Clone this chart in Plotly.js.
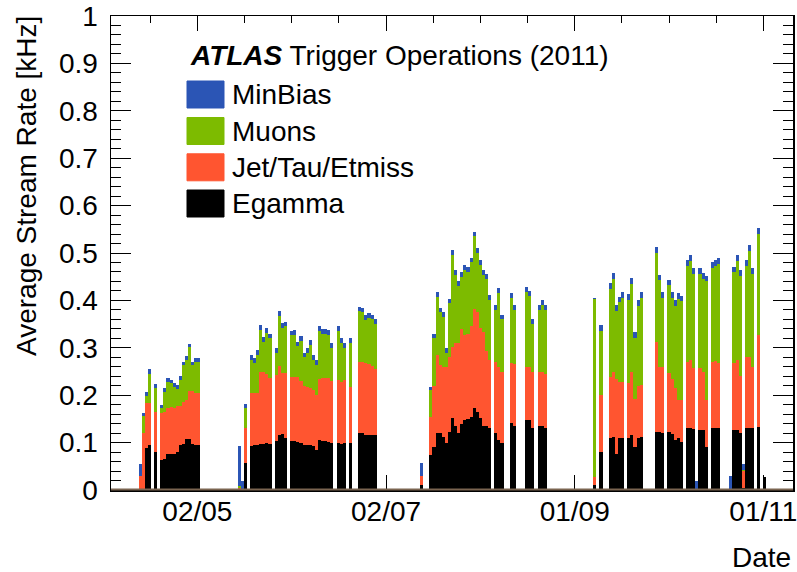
<!DOCTYPE html>
<html>
<head>
<meta charset="utf-8">
<script src="https://cdn.plot.ly/plotly-3.0.1.min.js"></script>
<style>html,body{margin:0;padding:0;background:#fff;}#chart{width:797px;height:572px;}</style>
</head>
<body>
<div id="chart"></div>
<script>
// ---- Data ----
const seriesNames = ["Egamma", "Jet/Tau/Etmiss", "Muons", "MinBias"];
const seriesColors = ["#000000", "#ff5530", "#7dbb00", "#2b55b5"];
const titleBold = "ATLAS";
const titleRest = "Trigger Operations (2011)";
const xTitle = "Date";
const yTitle = "Average Stream Rate [kHz]";

const dates = [
"2011-04-13","2011-04-14","2011-04-15","2011-04-16","2011-04-18","2011-04-20","2011-04-21","2011-04-22","2011-04-23","2011-04-24",
"2011-04-25","2011-04-26","2011-04-27","2011-04-28","2011-04-29","2011-04-30","2011-05-01","2011-05-02",
"2011-05-15","2011-05-16","2011-05-17","2011-05-19","2011-05-20","2011-05-21","2011-05-22","2011-05-23","2011-05-24","2011-05-25",
"2011-05-27","2011-05-28","2011-05-29","2011-05-30",
"2011-06-01","2011-06-02","2011-06-03","2011-06-04","2011-06-05","2011-06-06","2011-06-07","2011-06-08","2011-06-09","2011-06-10",
"2011-06-11","2011-06-12","2011-06-13","2011-06-14","2011-06-16","2011-06-17","2011-06-18","2011-06-20","2011-06-23","2011-06-24",
"2011-06-25","2011-06-26","2011-06-27","2011-06-28",
"2011-07-13","2011-07-16","2011-07-17","2011-07-18","2011-07-19","2011-07-20","2011-07-21","2011-07-22","2011-07-23","2011-07-24",
"2011-07-25","2011-07-26","2011-07-27","2011-07-28","2011-07-29","2011-07-30","2011-07-31","2011-08-01","2011-08-02","2011-08-03",
"2011-08-04","2011-08-06","2011-08-07","2011-08-08","2011-08-11","2011-08-12","2011-08-16","2011-08-17","2011-08-18","2011-08-20",
"2011-08-21","2011-08-22",
"2011-09-07","2011-09-09","2011-09-12","2011-09-13","2011-09-14","2011-09-15","2011-09-16","2011-09-18","2011-09-19","2011-09-20",
"2011-09-21","2011-09-22","2011-09-27","2011-09-28","2011-09-29","2011-10-01","2011-10-02","2011-10-03","2011-10-04","2011-10-05",
"2011-10-07","2011-10-08","2011-10-09","2011-10-10","2011-10-11","2011-10-12","2011-10-13","2011-10-15","2011-10-16","2011-10-17",
"2011-10-21","2011-10-22","2011-10-23","2011-10-24","2011-10-25","2011-10-26","2011-10-27","2011-10-28","2011-10-30","2011-11-01"
];

const egamma = [
0,0,.088,.095,.08,.063,.066,.077,.077,.076,
.08,.094,.097,.108,.108,.097,.094,.094,
0,0,.056,.093,.095,.096,.097,.098,.099,.097,
.103,.115,.118,.11,
.104,.103,.102,.1,.095,.095,.095,.093,.085,.105,
.104,.103,.102,.1,.1,.098,.1,.1,.12,.12,
.116,.115,.117,.115,
.01,.074,.09,.12,.12,.112,.1,.123,.151,.135,
.12,.14,.148,.15,.155,.172,.165,.151,.134,.134,
.13,.12,.105,.1,.141,.135,.148,.148,.13,.134,
.134,.13,
.01,.081,.109,.112,.075,.109,.11,.109,.116,.091,
.11,.112,.122,.122,.12,.122,.118,.105,.11,.102,
.13,.131,.128,0,.126,.126,.09,.13,.13,.13,
0,.126,.127,.12,.005,.13,.13,.13,.132,.028
];

const jetTauEtmiss = [
.03,.12,.095,.088,.085,.099,.099,.095,.099,.098,
.097,.084,.088,.082,.1,.111,.11,.11,
.005,0,.074,.111,.11,.108,.153,.15,.145,.14,
.14,.147,.128,.136,
.134,.135,.136,.13,.125,.122,.12,.118,.115,.13,
.132,.133,.134,.13,.132,.13,.132,.118,.151,.15,
.152,.15,.145,.14,
.02,.081,.13,.165,.144,.148,.16,.158,.15,.175,
.19,.2,.18,.18,.19,.21,.21,.19,.2,.16,
.144,.15,.155,.15,.126,.13,.112,.112,.12,.116,
.116,.115,
.017,.119,.13,.138,.16,.119,.118,.116,.134,.1,
.11,.11,.191,.138,.14,.124,.117,.11,.08,.088,
.141,.144,.129,0,.131,.124,.1,.14,.142,.137,
0,.141,.148,.12,.035,.151,.151,.13,.195,0
];

const muons = [
0,.037,.015,.062,.05,.01,.042,.056,.049,.044,
.037,.054,.078,.084,.093,.055,.066,.066,
.003,0,.042,.071,.063,.081,.088,.065,.087,.083,
.047,.106,.096,.099,
.088,.09,.065,.085,.06,.073,.091,.064,.064,.1,
.094,.094,.092,.07,.103,.082,.068,.092,.106,.105,
.091,.098,.098,.095,
0,.055,.1,.123,.111,.106,.03,.113,.195,.144,
.12,.11,.136,.13,.135,.153,.125,.134,.12,.151,
.127,.11,.156,.11,.138,.115,.158,.15,.1,.13,
.14,.135,
.377,.136,.186,.195,.143,.168,.178,.176,.185,.13,
.168,.184,.188,.182,.146,.186,.171,.173,.213,.208,
.202,.209,.199,0,.199,.195,.25,.198,.201,.21,
0,.192,.209,.212,.003,.192,.224,.196,.213,0
];

const minBias = [
.025,.005,.008,.01,.008,.008,.008,.008,.008,.008,
.008,.008,.008,.008,.008,.008,.008,.008,
.085,.02,.01,.01,.01,.01,.01,.01,.01,.01,
.01,.01,.01,.01,
.01,.01,.01,.01,.01,.01,.01,.01,.01,.01,
.01,.01,.01,.01,.01,.01,.01,.01,.01,.01,
.01,.01,.01,.01,
.028,.008,.01,.01,.01,.01,.01,.01,.01,.01,
.01,.01,.01,.01,.01,.01,.01,.01,.01,.01,
.01,.01,.01,.01,.01,.01,.01,.01,.01,.01,
.01,.01,
.002,.012,.012,.012,.012,.012,.012,.012,.012,.012,
.012,.012,.012,.012,.012,.012,.012,.012,.012,.012,
.012,.012,.012,.018,.012,.012,.012,.012,.012,.012,
.03,.012,.012,.012,.012,.012,.012,.012,.012,0
];

const xTickDates = ["2011-05-02", "2011-07-02", "2011-09-01", "2011-11-01"];
const xRange = ["2011-04-04 02:00", "2011-11-10 14:00"];

// ---- Layout helpers ----
const W = 797, H = 572;
const L = 111, R = 793, T = 16, B = 490;
const px2x = p => (p - L) / (R - L);
const px2y = p => (B - p) / (B - T);
const DAY = 86400000;
const FONT = "Liberation Sans, Arial, Helvetica, sans-serif";
const FS = 28;

const valueSets = [egamma, jetTauEtmiss, muons, minBias];
const traces = valueSets.map((vals, i) => ({
  type: "bar",
  name: seriesNames[i],
  x: dates,
  y: vals,
  xperiod: DAY,
  xperiodalignment: "middle",
  width: DAY,
  marker: {color: seriesColors[i], line: {width: 0}},
  showlegend: false,
  hoverinfo: "skip"
}));

// manual ROOT-style legend
const shapes = [];
const annotations = [];
annotations.push({
  xref: "paper", yref: "paper", x: px2x(188), y: px2y(56),
  xanchor: "left", yanchor: "middle", showarrow: false,
  text: "<b><i>" + titleBold + "</i></b> " + titleRest,
  font: {family: FONT, size: FS, color: "#000"}
});
const legendOrder = [3, 2, 1, 0];
const legendCenters = [94.5, 131, 167.3, 203.5];
legendOrder.forEach((si, k) => {
  const cy = legendCenters[k];
  shapes.push({
    type: "rect", xref: "paper", yref: "paper",
    x0: px2x(187), x1: px2x(224), y0: px2y(cy + 13.5), y1: px2y(cy - 13.5),
    fillcolor: seriesColors[si], line: {color: seriesColors[si], width: 1}
  });
  annotations.push({
    xref: "paper", yref: "paper", x: px2x(230), y: px2y(cy),
    xanchor: "left", yanchor: "middle", showarrow: false,
    text: seriesNames[si],
    font: {family: FONT, size: FS, color: "#000"}
  });
});
// brownish histogram baseline as in the reference
shapes.push({
  type: "line", xref: "paper", yref: "paper", x0: 0, x1: 1, y0: px2y(489.5), y1: px2y(489.5),
  line: {color: "#7a6450", width: 2}, layer: "above"
});
// axis titles (ROOT style, aligned to the axis ends)
annotations.push({
  xref: "paper", yref: "paper", x: px2x(793), y: px2y(557),
  xanchor: "right", yanchor: "middle", showarrow: false,
  text: xTitle, font: {family: FONT, size: FS, color: "#000"}
});
annotations.push({
  xref: "paper", yref: "paper", x: px2x(27), y: px2y(186),
  xanchor: "center", yanchor: "middle", showarrow: false, textangle: -90,
  text: yTitle, font: {family: FONT, size: FS, color: "#000"}
});

const layout = {
  width: W, height: H,
  margin: {l: L, r: W - R, t: T, b: H - B, pad: 0},
  paper_bgcolor: "#fff", plot_bgcolor: "#fff",
  barmode: "stack", bargap: 0,
  font: {family: FONT, size: FS, color: "#000"},
  xaxis: {
    type: "date", range: xRange,
    tickmode: "array", tickvals: xTickDates, tickformat: "%d/%m",
    ticks: "inside", ticklen: 15, tickwidth: 1, tickcolor: "#000",
    minor: {tickmode: "linear", tick0: xTickDates[0], dtick: 15.25 * DAY, ticks: "inside", ticklen: 7, tickcolor: "#000"},
    showline: true, linecolor: "#000", linewidth: 1.5, mirror: "ticks",
    showgrid: false, zeroline: false,
    tickfont: {family: FONT, size: FS, color: "#000"},
    ticklabelstandoff: -4,
    ticklabeloverflow: "allow"
  },
  yaxis: {
    range: [0, 1], tickmode: "linear", tick0: 0, dtick: 0.1,
    ticks: "inside", ticklen: 20, tickwidth: 1, tickcolor: "#000",
    minor: {dtick: 0.02, ticks: "inside", ticklen: 10, tickcolor: "#000"},
    showline: true, linecolor: "#000", linewidth: 1.5, mirror: "ticks",
    showgrid: false, zeroline: false,
    tickfont: {family: FONT, size: FS, color: "#000"},
    ticklabelstandoff: 6
  },
  shapes: shapes,
  annotations: annotations
};

Plotly.newPlot("chart", traces, layout, {staticPlot: true, displayModeBar: false});
</script>
</body>
</html>
